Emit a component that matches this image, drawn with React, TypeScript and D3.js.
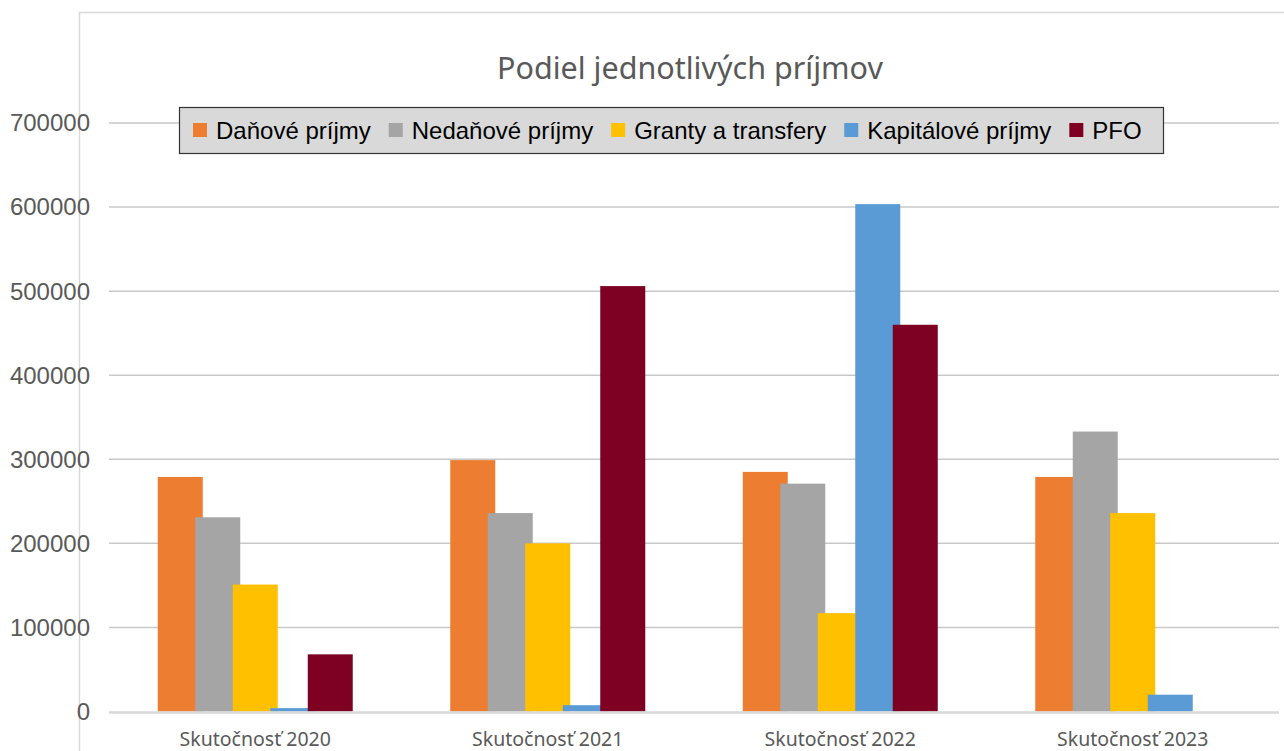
import React, { useRef, useEffect } from 'react';
import * as d3 from 'd3';

const categories = ['Skutočnosť 2020', 'Skutočnosť 2021', 'Skutočnosť 2022', 'Skutočnosť 2023'];

const seriesNames = ['Daňové príjmy', 'Nedaňové príjmy', 'Granty a transfery', 'Kapitálové príjmy', 'PFO'];
const seriesColors = ['#ED7D31', '#A5A5A5', '#FFC000', '#5B9BD5', '#7E0023'];

const danove = [279000, 299000, 285000, 279000];
const nedanove = [231000, 236000, 271000, 333000];
const granty = [151000, 200000, 117000, 236000];
const kapitalove = [4000, 7500, 603500, 20000];
const pfo = [68000, 506000, 460000, 0];

const yTicks = [0, 100000, 200000, 300000, 400000, 500000, 600000, 700000];

const title = 'Podiel jednotlivých príjmov';

const App: React.FC = () => {
  const ref = useRef<SVGSVGElement | null>(null);
  const width = 1284;
  const height = 751;

  useEffect(() => {
    if (!ref.current) return;
    const svg = d3.select(ref.current);
    svg.selectAll('*').remove();

    const series = [danove, nedanove, granty, kapitalove, pfo];
    const plot = { left: 109, right: 1279, top: 123, bottom: 711.5 };

    // outer chart frame
    svg
      .append('rect')
      .attr('x', 79.5)
      .attr('y', 12.5)
      .attr('width', 1230)
      .attr('height', 800)
      .attr('fill', '#fff')
      .attr('stroke', '#d9d9d9')
      .attr('stroke-width', 1.5);

    const x = d3.scaleBand<string>().domain(categories).range([plot.left, plot.right]).padding(0);
    const y = d3.scaleLinear().domain([0, 700000]).range([plot.bottom, plot.top]);

    // gridlines
    svg
      .append('g')
      .selectAll('line')
      .data(yTicks.filter(t => t > 0))
      .join('line')
      .attr('x1', plot.left)
      .attr('x2', plot.right)
      .attr('y1', d => y(d))
      .attr('y2', d => y(d))
      .attr('stroke', '#c8c8c8')
      .attr('stroke-width', 1.5);

    // y labels
    svg
      .append('g')
      .selectAll('text')
      .data(yTicks)
      .join('text')
      .attr('x', 90)
      .attr('y', d => y(d))
      .attr('dy', '0.35em')
      .attr('text-anchor', 'end')
      .attr('font-family', '"Liberation Sans", Arial, sans-serif')
      .attr('font-size', 24)
      .attr('fill', '#595959')
      .text(d => String(d));

    // bars: overlapping like excel (width 45, step 37.5)
    const step = x.bandwidth() / 7.8;
    const barW = step * 1.2;
    const groupW = step * 4 + barW;
    series.forEach((vals, si) => {
      svg
        .append('g')
        .selectAll('rect')
        .data(vals)
        .join('rect')
        .attr('x', (_, i) => (x(categories[i]) as number) + (x.bandwidth() - groupW) / 2 + si * step)
        .attr('y', d => y(d))
        .attr('width', barW)
        .attr('height', d => plot.bottom - y(d))
        .attr('fill', seriesColors[si]);
    });

    // baseline
    svg
      .append('line')
      .attr('x1', plot.left)
      .attr('x2', plot.right)
      .attr('y1', plot.bottom + 1)
      .attr('y2', plot.bottom + 1)
      .attr('stroke', '#d9d9d9')
      .attr('stroke-width', 2.5);

    // category labels
    svg
      .append('g')
      .selectAll('text')
      .data(categories)
      .join('text')
      .attr('x', d => (x(d) as number) + x.bandwidth() / 2)
      .attr('y', 746)
      .attr('text-anchor', 'middle')
      .attr('font-family', '"Noto Sans", sans-serif')
      .attr('font-size', 19.5)
      .attr('fill', '#595959')
      .text(d => d);

    // title
    svg
      .append('text')
      .attr('x', 690)
      .attr('y', 79)
      .attr('text-anchor', 'middle')
      .attr('font-family', '"Noto Sans", sans-serif')
      .attr('font-size', 30.5)
      .attr('fill', '#595959')
      .text(title);

    // legend
    const legend = svg.append('g');
    legend
      .append('rect')
      .attr('x', 179.5)
      .attr('y', 107.5)
      .attr('width', 984)
      .attr('height', 46)
      .attr('fill', '#d9d9d9')
      .attr('stroke', '#333')
      .attr('stroke-width', 1.2);
    let cx = 193;
    seriesNames.forEach((name, i) => {
      legend
        .append('rect')
        .attr('x', cx)
        .attr('y', 123)
        .attr('width', 14)
        .attr('height', 14)
        .attr('fill', seriesColors[i]);
      const t = legend
        .append('text')
        .attr('x', cx + 23)
        .attr('y', 139)
        .attr('font-family', '"Liberation Sans", Arial, sans-serif')
        .attr('font-size', 24)
        .attr('fill', '#000')
        .text(name);
      const w = (t.node() as SVGTextElement).getComputedTextLength();
      cx = cx + 23 + w + 18;
    });
  }, []);

  return (
    <svg
      ref={ref}
      width={width}
      height={height}
      viewBox={`0 0 ${width} ${height}`}
      style={{ position: 'absolute', left: 0, top: 0, background: '#fff' }}
    />
  );
};

export default App;
